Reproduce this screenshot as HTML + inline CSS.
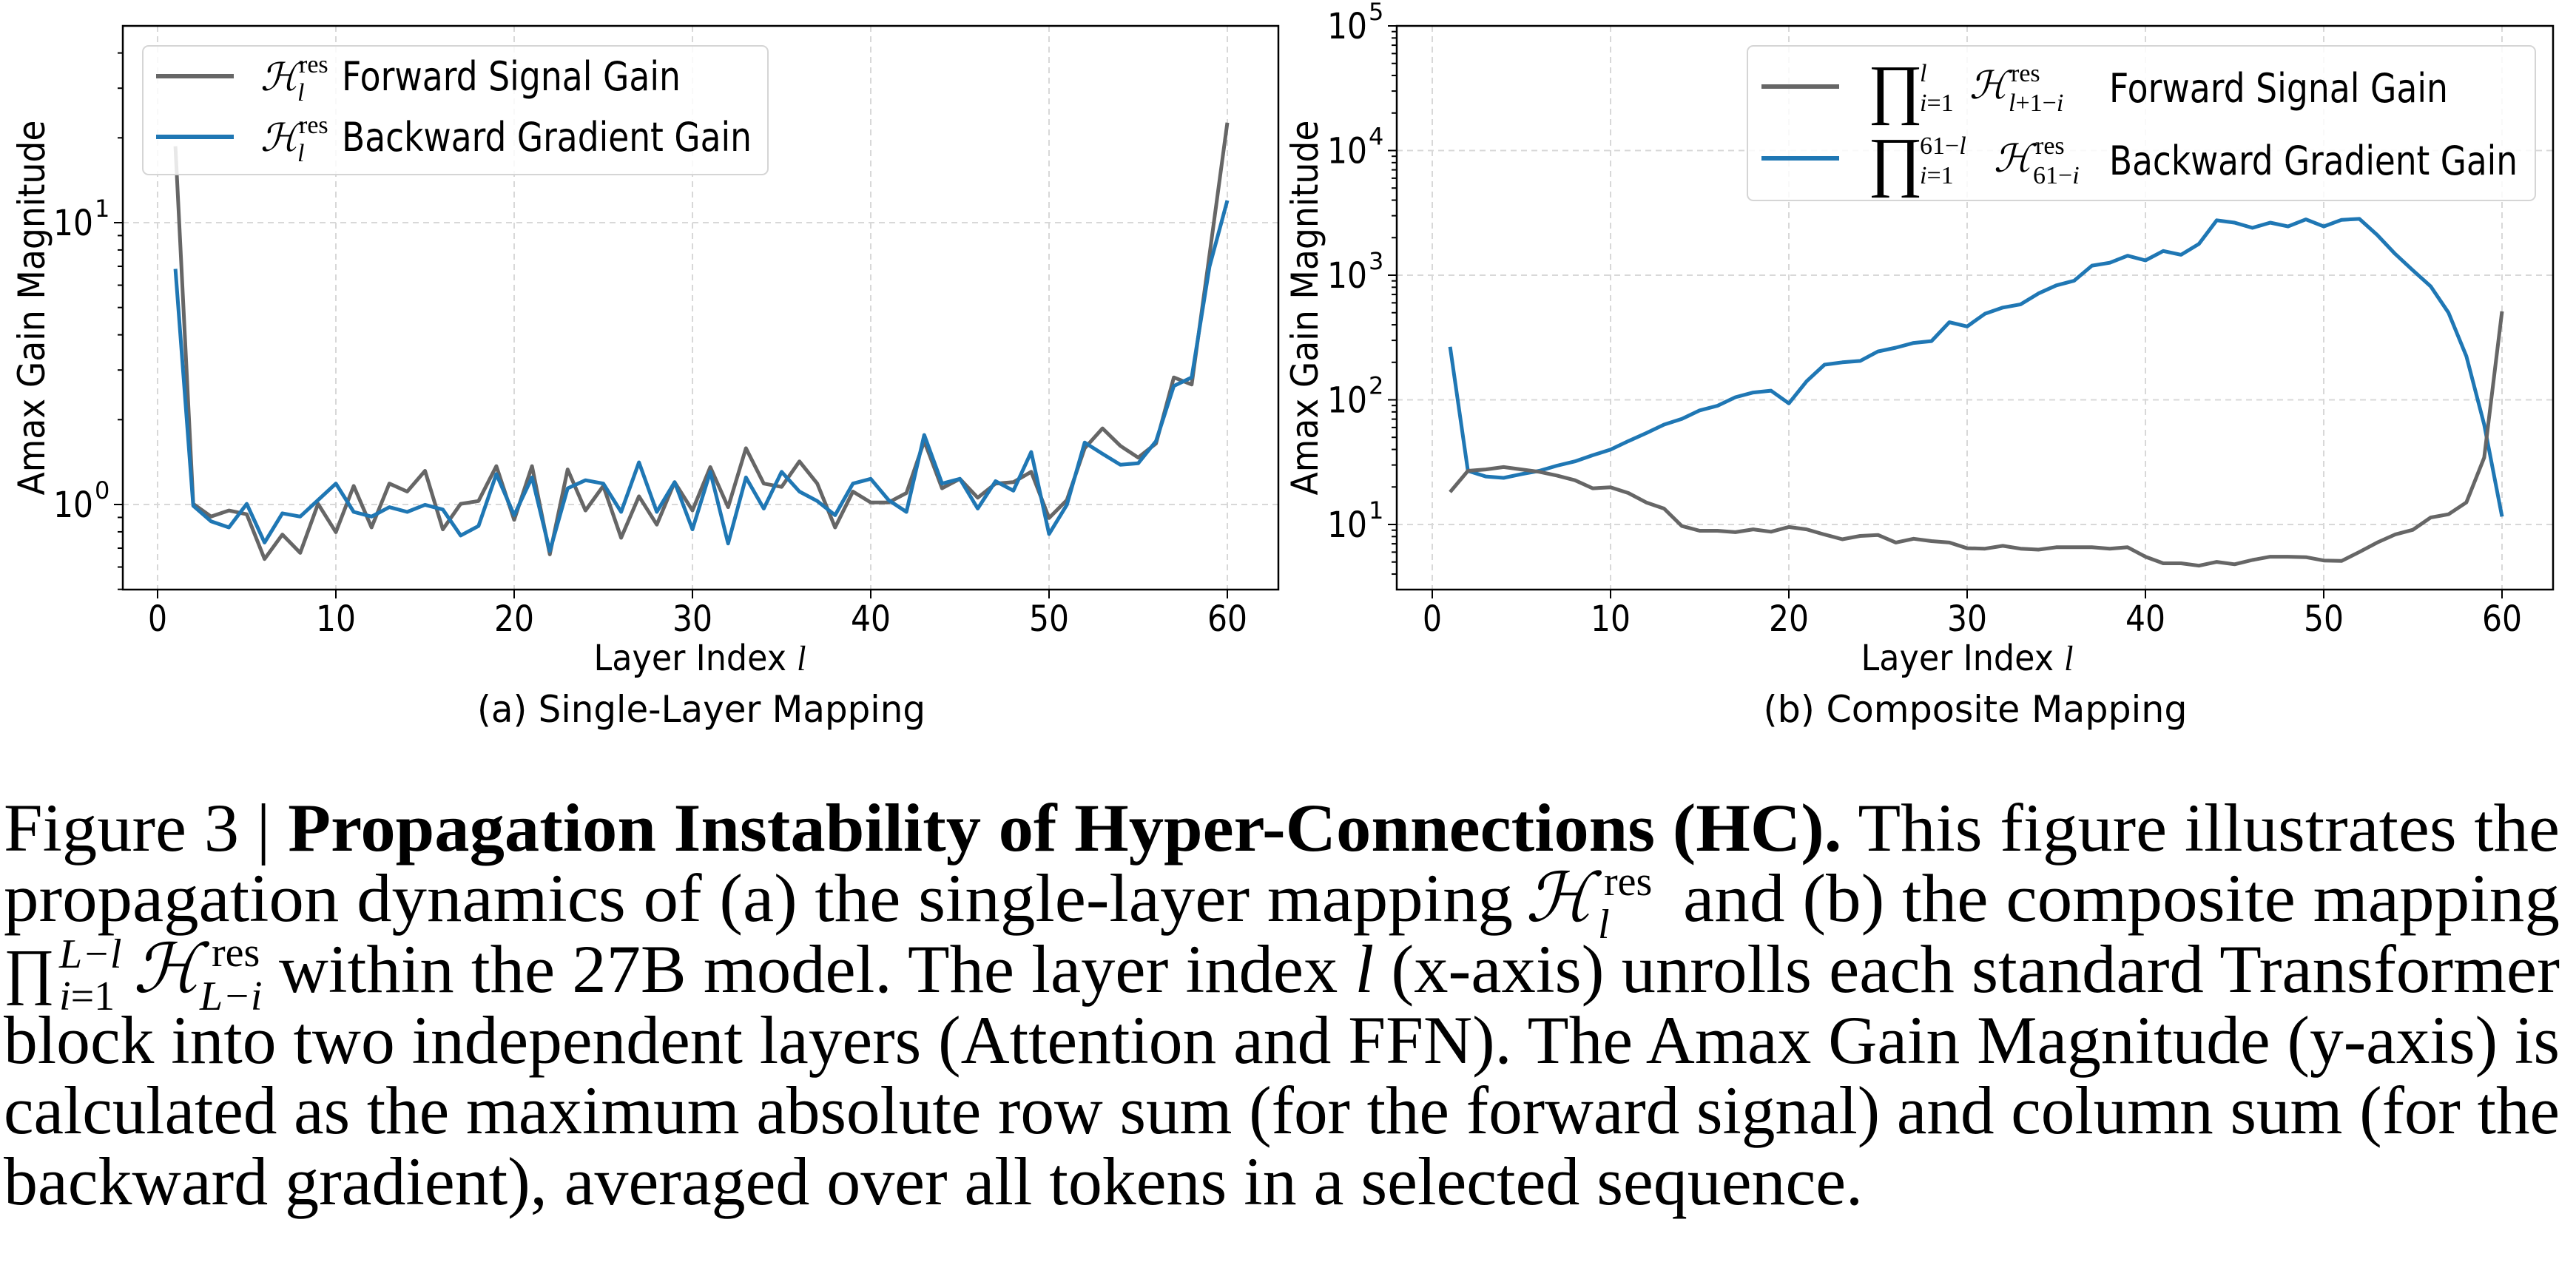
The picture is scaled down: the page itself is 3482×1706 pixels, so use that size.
<!DOCTYPE html>
<html><head><meta charset="utf-8">
<style>
html,body{margin:0;padding:0;background:#fff;}
svg{display:block;}
.t{font-family:"DejaVu Sans","Liberation Sans",sans-serif;fill:#000;}
.s{font-family:"Liberation Serif",serif;fill:#000;}
</style></head>
<body>
<svg id="svg" width="3482" height="1706" viewBox="0 0 3482 1706" xmlns="http://www.w3.org/2000/svg">
<g id="grid"></g>
<g id="series"></g>
<g id="axes"></g>

<!-- Left legend -->
<rect x="193" y="62" width="845" height="174" rx="8" fill="#fff" fill-opacity="0.85" stroke="#d5d5d5" stroke-width="2"/>
<line x1="211" y1="103" x2="316" y2="103" stroke="#666" stroke-width="6"/>
<line x1="211" y1="185" x2="316" y2="185" stroke="#1f77b4" stroke-width="6"/>
<text class="s" x="352" y="122" font-size="52" font-style="italic">ℋ</text>
<text class="s" x="404" y="98" font-size="34">res</text>
<text class="s" x="402" y="136" font-size="34" font-style="italic">l</text>
<text class="t" x="462" y="122" font-size="54" textLength="458" lengthAdjust="spacingAndGlyphs">Forward Signal Gain</text>
<text class="s" x="352" y="204" font-size="52" font-style="italic">ℋ</text>
<text class="s" x="404" y="180" font-size="34">res</text>
<text class="s" x="402" y="218" font-size="34" font-style="italic">l</text>
<text class="t" x="462" y="204" font-size="54" textLength="554" lengthAdjust="spacingAndGlyphs">Backward Gradient Gain</text>

<!-- Right legend -->
<rect x="2362" y="62" width="1065" height="209" rx="8" fill="#fff" fill-opacity="0.85" stroke="#d5d5d5" stroke-width="2"/>
<line x1="2381" y1="117" x2="2486" y2="117" stroke="#666" stroke-width="6"/>
<line x1="2381" y1="214" x2="2486" y2="214" stroke="#1f77b4" stroke-width="6"/>
<text class="s" x="2525" y="150" font-size="90">∏</text>
<text class="s" x="2595" y="110" font-size="34" font-style="italic">l</text>
<text class="s" x="2595" y="150" font-size="34"><tspan font-style="italic">i</tspan>=1</text>
<text class="s" x="2662" y="133" font-size="52" font-style="italic">ℋ</text>
<text class="s" x="2718" y="110" font-size="34">res</text>
<text class="s" x="2715" y="150" font-size="34"><tspan font-style="italic">l</tspan>+1−<tspan font-style="italic">i</tspan></text>
<text class="t" x="2851" y="138" font-size="54" textLength="458" lengthAdjust="spacingAndGlyphs">Forward Signal Gain</text>
<text class="s" x="2525" y="248" font-size="90">∏</text>
<text class="s" x="2595" y="208" font-size="34">61−<tspan font-style="italic">l</tspan></text>
<text class="s" x="2595" y="248" font-size="34"><tspan font-style="italic">i</tspan>=1</text>
<text class="s" x="2695" y="232" font-size="52" font-style="italic">ℋ</text>
<text class="s" x="2751" y="208" font-size="34">res</text>
<text class="s" x="2748" y="248" font-size="34">61−<tspan font-style="italic">i</tspan></text>
<text class="t" x="2851" y="236" font-size="54" textLength="552" lengthAdjust="spacingAndGlyphs">Backward Gradient Gain</text>

<!-- axis titles -->
<text class="t" x="946" y="906" font-size="48" text-anchor="middle" textLength="287" lengthAdjust="spacingAndGlyphs">Layer Index <tspan class="s" font-style="italic">l</tspan></text>
<text class="t" x="2659" y="906" font-size="48" text-anchor="middle" textLength="287" lengthAdjust="spacingAndGlyphs">Layer Index <tspan class="s" font-style="italic">l</tspan></text>
<text class="t" x="948" y="976" font-size="50" text-anchor="middle" textLength="606" lengthAdjust="spacingAndGlyphs">(a) Single-Layer Mapping</text>
<text class="t" x="2670" y="976" font-size="50" text-anchor="middle" textLength="573" lengthAdjust="spacingAndGlyphs">(b) Composite Mapping</text>
<text class="t" transform="translate(60,416) rotate(-90)" font-size="50" text-anchor="middle" textLength="507" lengthAdjust="spacingAndGlyphs">Amax Gain Magnitude</text>
<text class="t" transform="translate(1781,416) rotate(-90)" font-size="50" text-anchor="middle" textLength="507" lengthAdjust="spacingAndGlyphs">Amax Gain Magnitude</text>

<!-- caption -->
<g class="s" font-size="92">
<text x="5" y="1150" textLength="3455" lengthAdjust="spacingAndGlyphs">Figure 3 | <tspan font-weight="bold">Propagation Instability of Hyper-Connections (HC).</tspan> This figure illustrates the</text>
<text x="5" y="1245" textLength="2040" lengthAdjust="spacingAndGlyphs">propagation dynamics of (a) the single-layer mapping</text>
<text x="2062" y="1245" font-style="italic">ℋ</text>
<text x="2168" y="1210" font-size="56">res</text>
<text x="2160" y="1268" font-size="56" font-style="italic">l</text>
<text x="2275" y="1245" textLength="1185" lengthAdjust="spacingAndGlyphs">and (b) the composite mapping</text>
<text x="5" y="1341" font-size="84">∏</text>
<text x="80" y="1308" font-size="56" font-style="italic">L−l</text>
<text x="80" y="1365" font-size="56"><tspan font-style="italic">i</tspan>=1</text>
<text x="180" y="1341" font-style="italic">ℋ</text>
<text x="286" y="1306" font-size="56">res</text>
<text x="270" y="1365" font-size="56" font-style="italic">L−i</text>
<text x="377" y="1341" textLength="3083" lengthAdjust="spacingAndGlyphs">within the 27B model. The layer index <tspan font-style="italic">l</tspan> (x-axis) unrolls each standard Transformer</text>
<text x="5" y="1437" textLength="3455" lengthAdjust="spacingAndGlyphs">block into two independent layers (Attention and FFN). The Amax Gain Magnitude (y-axis) is</text>
<text x="5" y="1532" textLength="3455" lengthAdjust="spacingAndGlyphs">calculated as the maximum absolute row sum (for the forward signal) and column sum (for the</text>
<text x="5" y="1628" textLength="2513" lengthAdjust="spacingAndGlyphs">backward gradient), averaged over all tokens in a selected sequence.</text>
</g>
</svg>
<script>
(function(){
var NS="http://www.w3.org/2000/svg";
function el(p,tag,a,txt){var e=document.createElementNS(NS,tag);for(var k in a)e.setAttribute(k,a[k]);if(txt!==undefined)e.textContent=txt;document.getElementById(p).appendChild(e);return e;}
var L={x0:166,x1:1728,y0:35,y1:797,xa:213,xb:1659,yd:381,y10:682};
var R={x0:1888,x1:3451,y0:35,y1:797,xa:1936,xb:3382};
function lx(P,l){return P.xa+(P.xb-P.xa)*l/60;}
function lyL(v){return L.y10-Math.log10(v)*L.yd;}
function lyR(v){return 709-(Math.log10(v)-1)*168.5;}
[L,R].forEach(function(P){
 for(var i=0;i<=60;i+=10){var x=lx(P,i);el("grid","line",{x1:x,x2:x,y1:P.y0,y2:P.y1,stroke:"#d8d8d8","stroke-width":2,"stroke-dasharray":"8,6"});
  el("axes","line",{x1:x,x2:x,y1:P.y1,y2:P.y1+12,stroke:"#000","stroke-width":2});
  el("axes","text",{x:x,y:P.y1+56,"font-size":48,"text-anchor":"middle","class":"t",textLength:(i<10?26:54),lengthAdjust:"spacingAndGlyphs"},String(i));}
});
[1,10].forEach(function(v){var y=lyL(v);el("grid","line",{x1:L.x0,x2:L.x1,y1:y,y2:y,stroke:"#d8d8d8","stroke-width":2,"stroke-dasharray":"8,6"});});
[10,100,1000,10000].forEach(function(v){var y=lyR(v);el("grid","line",{x1:R.x0,x2:R.x1,y1:y,y2:y,stroke:"#d8d8d8","stroke-width":2,"stroke-dasharray":"8,6"});});
function ytick(P,y,major,exp){el("axes","line",{x1:P.x0-(major?12:7),x2:P.x0,y1:y,y2:y,stroke:"#000","stroke-width":2});
 if(major){el("axes","text",{x:P.x0-40,y:y+17,"font-size":48,"text-anchor":"end","class":"t",textLength:54,lengthAdjust:"spacingAndGlyphs"},"10");
 el("axes","text",{x:P.x0-38,y:y-8,"font-size":32,"class":"t"},exp);}}
for(var d=-1;d<=1;d++){for(var m=1;m<10;m++){var v=m*Math.pow(10,d);var y=lyL(v);if(y<L.y0||y>L.y1)continue;ytick(L,y,m==1,String(d));}}
for(var d=0;d<=5;d++){for(var m=1;m<10;m++){var v=m*Math.pow(10,d);var y=lyR(v);if(y<R.y0-1||y>R.y1)continue;ytick(R,y,m==1,String(d));}}
[L,R].forEach(function(P){el("axes","rect",{x:P.x0,y:P.y0,width:P.x1-P.x0,height:P.y1-P.y0,fill:"none",stroke:"#000","stroke-width":2.5});});
var gL=[310,1068,1095,1082,1090,1185,1133,1172,1068,1128,1030,1118,1025,1042,998,1122,1068,1062,988,1102,988,1175,995,1082,1030,1140,1052,1112,1022,1082,990,1075,950,1025,1032,978,1025,1118,1042,1065,1065,1045,935,1035,1015,1055,1025,1022,1000,1098,1060,950,908,945,970,940,800,815,540,260];
var bL=[570,1072,1105,1118,1068,1150,1088,1095,1060,1025,1085,1095,1075,1085,1070,1080,1135,1115,1005,1092,1012,1168,1035,1018,1025,1085,980,1085,1022,1122,1000,1152,1012,1078,1000,1042,1062,1092,1025,1015,1060,1085,922,1025,1015,1078,1020,1040,958,1132,1070,938,962,985,982,935,818,800,565,425];
var bR=[735,998,1010,1013,1005,998,987,978,965,953,935,918,900,888,870,860,842,832,828,855,808,773,768,765,745,737,727,723,683,692,665,652,645,622,605,595,563,557,542,552,532,540,517,467,472,483,472,480,465,480,466,464,498,538,573,607,663,755,900,1095];
var gR=[1043,998,995,990,995,1000,1008,1018,1035,1033,1045,1065,1078,1115,1125,1125,1128,1122,1127,1117,1122,1133,1143,1136,1134,1150,1142,1147,1150,1162,1163,1157,1163,1165,1160,1160,1160,1163,1160,1180,1194,1194,1199,1191,1196,1187,1180,1180,1181,1188,1189,1170,1150,1133,1123,1097,1090,1065,970,660];
function path(P,arr,col){var d="";for(var i=0;i<arr.length;i++){d+=(i?"L":"M")+lx(P,i+1).toFixed(1)+","+(arr[i]/1.568).toFixed(1);}
 el("series","path",{d:d,fill:"none",stroke:col,"stroke-width":5,"stroke-linejoin":"round"});}
path(L,gL,"#666");path(L,bL,"#1f77b4");
path(R,bR,"#1f77b4");path(R,gR,"#666");
})();
</script>
</body></html>
